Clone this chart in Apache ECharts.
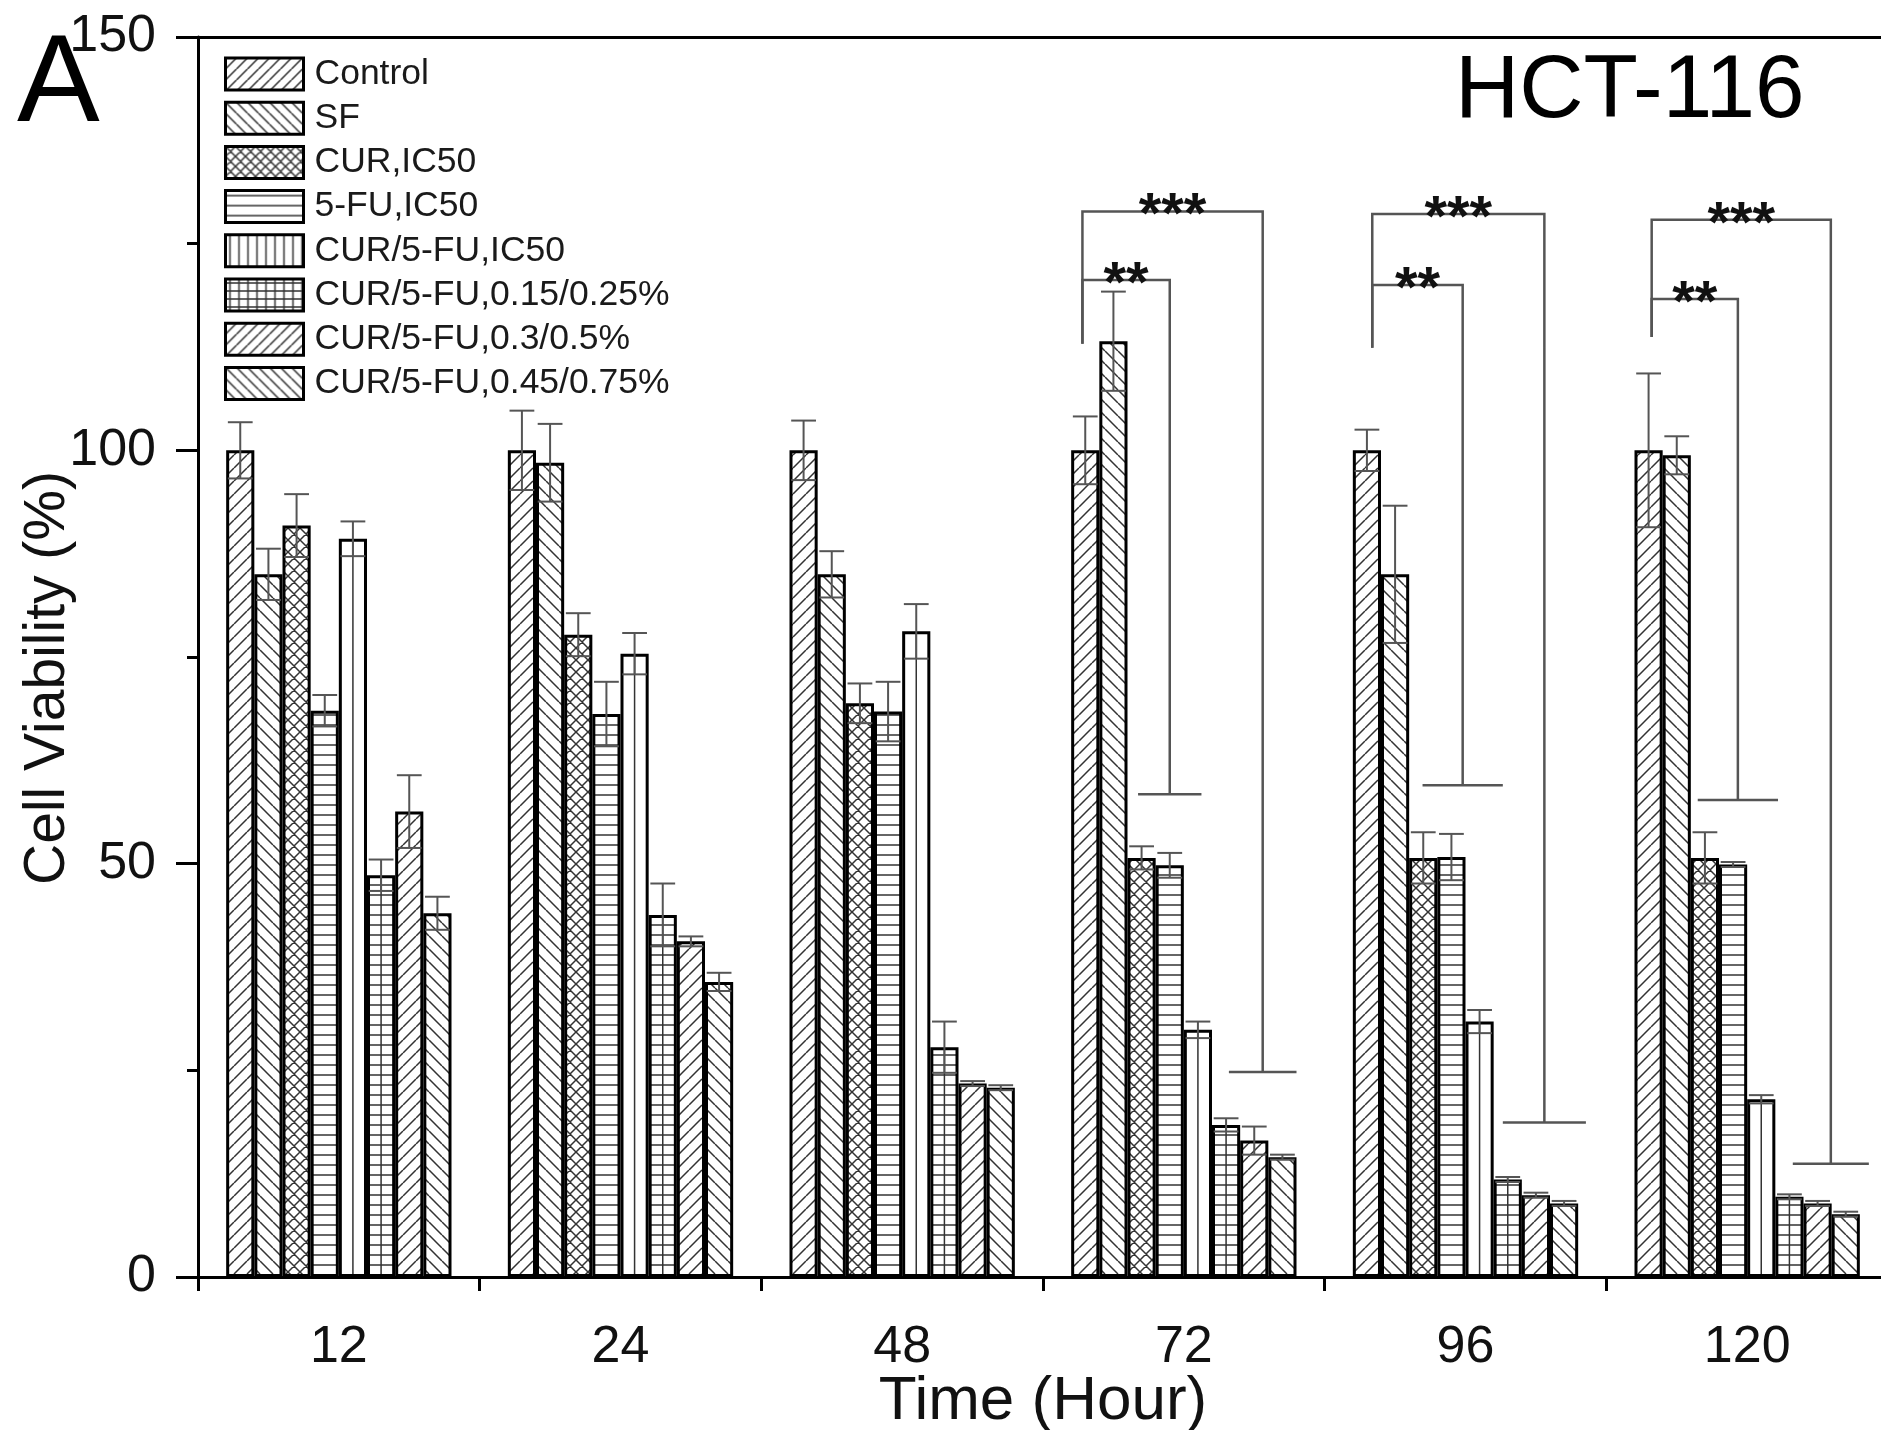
<!DOCTYPE html>
<html><head><meta charset="utf-8">
<script src="https://cdn.jsdelivr.net/npm/echarts@6.0.0/dist/echarts.min.js"></script>
<style>html,body{margin:0;padding:0;background:#fff}#c{width:1881px;height:1430px}</style>
</head><body><div id="c"></div>
<script>
// ---------- data ----------
const categories = ['12', '24', '48', '72', '96', '120'];
const seriesNames = ['Control', 'SF', 'CUR,IC50', '5-FU,IC50', 'CUR/5-FU,IC50',
  'CUR/5-FU,0.15/0.25%', 'CUR/5-FU,0.3/0.5%', 'CUR/5-FU,0.45/0.75%'];
const yTicks = [0, 50, 100, 150];

const controlMean = [100, 100, 100, 100, 100, 100];
const sfMean      = [85.0, 98.5, 85.0, 113.2, 85.0, 99.4];
const curMean     = [90.9, 77.7, 69.4, 50.7, 50.7, 50.7];
const fuMean      = [68.5, 68.1, 68.4, 49.8, 50.8, 49.9];
const comboMean   = [89.3, 75.4, 78.1, 29.9, 30.9, 21.5];
const lowMean     = [48.6, 43.8, 27.8, 18.4, 11.8, 9.7];
const midMean     = [56.3, 40.6, 23.4, 16.5, 9.9, 8.9];
const highMean    = [44.0, 35.7, 22.9, 14.5, 8.9, 7.6];

const controlErr = [3.4, 4.8, 3.6, 4.1, 2.5, 9.3];
const sfErr      = [3.1, 4.7, 2.8, 6.0, 8.3, 2.3];
const curErr     = [3.8, 2.6, 2.4, 1.4, 3.1, 3.1];
const fuErr      = [1.9, 3.9, 3.6, 1.5, 2.8, 0.3];
const comboErr   = [2.1, 2.5, 3.3, 1.0, 1.4, 0.5];
const lowErr     = [1.9, 3.8, 3.1, 0.8, 0.3, 0.3];
const midErr     = [4.4, 0.6, 0.3, 1.7, 0.3, 0.3];
const highErr    = [2.0, 1.1, 0.3, 0.3, 0.3, 0.3];

// significance brackets: [category, left bar pos, right bar pos, top value, left bottom value, right bottom value, cap width (bars), stars]
const brackets72  = [[3, -0.1, 3.0, 120.6, 112.9, 58.4, 2.25, 2], [3, -0.1, 6.3, 128.9, 112.9, 24.8, 2.4, 3]];
const brackets96  = [[4, 0.19, 3.4, 120.0, 112.4, 59.5, 2.85, 2], [4, 0.19, 6.3, 128.6, 112.4, 18.7, 2.95, 3]];
const brackets120 = [[5, 0.11, 3.17, 118.3, 113.7, 57.7, 2.85, 2], [5, 0.11, 6.47, 127.9, 113.7, 13.7, 2.7, 3]];

const means = [controlMean, sfMean, curMean, fuMean, comboMean, lowMean, midMean, highMean];
const errs = [controlErr, sfErr, curErr, fuErr, comboErr, lowErr, midErr, highErr];

// ---------- styles ----------
const FONT = 'Liberation Sans, Arial, Helvetica, sans-serif';
const HATCH = '#333';
const N = seriesNames.length;
const GAP = 0.2;

function tile(w, h, draw) {
  const c = document.createElement('canvas');
  c.width = w; c.height = h;
  const g = c.getContext('2d');
  g.fillStyle = '#fff'; g.fillRect(0, 0, w, h);
  g.strokeStyle = HATCH; g.lineWidth = 1.5;
  draw(g, w, h);
  return { image: c, repeat: 'repeat' };
}
function fwd(s) { return tile(s, s, (g) => { g.beginPath(); for (let k = -1; k <= 1; k++) { g.moveTo(k * s, s); g.lineTo(k * s + s, 0); } g.stroke(); }); }
function back(s) { return tile(s, s, (g) => { g.beginPath(); for (let k = -1; k <= 1; k++) { g.moveTo(k * s, 0); g.lineTo(k * s + s, s); } g.stroke(); }); }
function cross(s) { return tile(s, s, (g) => { g.beginPath(); for (let k = -1; k <= 1; k++) { g.moveTo(k * s, s); g.lineTo(k * s + s, 0); g.moveTo(k * s, 0); g.lineTo(k * s + s, s); } g.stroke(); }); }
function horiz(p) { return tile(8, p, (g, w, h) => { g.beginPath(); g.moveTo(0, h / 2); g.lineTo(w, h / 2); g.stroke(); }); }
function vert(p) { return tile(p, 8, (g, w) => { g.beginPath(); g.moveTo(w / 2, 0); g.lineTo(w / 2, 8); g.stroke(); }); }
function grid(px, py) { return tile(px, py, (g, w, h) => { g.beginPath(); g.moveTo(w / 2, 0); g.lineTo(w / 2, h); g.moveTo(0, h / 2); g.lineTo(w, h / 2); g.stroke(); }); }
// vertical lines aligned with bar centres (global tile)
function alignedVert(W, x0, step, withHoriz) {
  const H = withHoriz ? 10 : 4;
  return tile(W, H, (g) => {
    g.beginPath();
    const mStart = Math.floor(-x0 / step) - 1;
    for (let m = mStart; x0 + m * step <= W + step; m++) { const x = x0 + m * step; g.moveTo(x, 0); g.lineTo(x, H); }
    if (withHoriz) { g.moveTo(0, 5); g.lineTo(W, 5); }
    g.stroke();
  });
}

const legendPatterns = [fwd(11), back(11), cross(10), horiz(10), vert(9), grid(9, 8), fwd(11), back(11)];
function barPatterns(vertFill, gridFill) {
  return [fwd(13), back(13), cross(12), horiz(10), vertFill, gridFill, fwd(13), back(13)];
}

function errorRender(params, api) {
  const cat = api.value(0), si = api.value(1), m = api.value(2), e = api.value(3);
  const band = api.size([1, 0])[0];
  const bw = band * (1 - GAP) / N;
  const cx = api.coord([cat, 0])[0] - band * (1 - GAP) / 2 + bw * (si + 0.5);
  const yt = api.coord([cat, m + e])[1], yb = api.coord([cat, m - e])[1];
  const hw = bw * 0.44;
  const st = { stroke: '#555', lineWidth: 2 };
  return { type: 'group', children: [
    { type: 'line', shape: { x1: cx, y1: yt, x2: cx, y2: yb }, style: st },
    { type: 'line', shape: { x1: cx - hw, y1: yt, x2: cx + hw, y2: yt }, style: st },
    { type: 'line', shape: { x1: cx - hw, y1: yb, x2: cx + hw, y2: yb }, style: st }
  ] };
}

function bracketRender(params, api) {
  const cat = api.value(0);
  const band = api.size([1, 0])[0];
  const bw = band * (1 - GAP) / N;
  const c = api.coord([cat, 0])[0];
  const px = p => c - band * (1 - GAP) / 2 + bw * (p + 0.5);
  const xl = px(api.value(1)), xr = px(api.value(2));
  const yt = api.coord([cat, api.value(3)])[1];
  const ylb = api.coord([cat, api.value(4)])[1];
  const yrb = api.coord([cat, api.value(5)])[1];
  const cw = api.value(6) * bw / 2;
  const n = api.value(7);
  const st = { stroke: '#555', lineWidth: 2.5, fill: null };
  return { type: 'group', children: [
    { type: 'polyline', shape: { points: [[xl, ylb], [xl, yt], [xr, yt], [xr, yrb]] }, style: st },
    { type: 'line', shape: { x1: xr - cw, y1: yrb, x2: xr + cw, y2: yrb }, style: st },
    { type: 'text', style: { text: '*'.repeat(n), x: (xl + xr) / 2, y: yt + 6, fill: '#111',
      font: 'bold 58px ' + FONT, align: 'center', verticalAlign: 'middle', textAlign: 'center', textVerticalAlign: 'middle' } }
  ] };
}

const errorData = [];
errs.forEach((arr, si) => arr.forEach((e, ci) => errorData.push([ci, si, means[si][ci], e])));
const bracketData = [].concat(brackets72, brackets96, brackets120);

function buildSeries(pats) {
  const s = seriesNames.map((name, i) => ({
    type: 'bar', name, data: means[i], barGap: '0%', barCategoryGap: (GAP * 100) + '%',
    itemStyle: { color: pats[i], borderColor: '#000', borderWidth: 3 }, z: 2,
    emphasis: { disabled: true }
  }));
  s.push({ type: 'custom', renderItem: errorRender, data: errorData, z: 5, silent: true, clip: false,
    encode: { x: 0, y: 2 } });
  s.push({ type: 'custom', renderItem: bracketRender, data: bracketData, z: 6, silent: true, clip: false,
    encode: { x: 0, y: 3 } });
  return s;
}

const chart = echarts.init(document.getElementById('c'), null, { renderer: 'canvas' });
const blank = { color: '#fff' };
const option = {
  animation: false,
  backgroundColor: '#fff',
  grid: { left: 198, right: -7, top: 37, bottom: 153, outerBoundsMode: 'none', containLabel: false },
  legend: {
    orient: 'vertical', left: 224, top: 56, padding: 0,
    itemWidth: 78, itemHeight: 32, itemGap: 8.2, icon: 'rect',
    textStyle: { fontSize: 35.5, lineHeight: 32, fontFamily: FONT, color: '#1a1a1a', padding: [0, 0, 0, 6] },
    data: seriesNames.map((name, i) => ({ name, itemStyle: { color: legendPatterns[i], borderColor: '#000', borderWidth: 3 } })),
    selectedMode: false
  },
  graphic: [
    { type: 'text', left: 17, top: 25, style: { text: 'A', font: '124px ' + FONT, fill: '#000' } },
    { type: 'text', left: 1455, top: 48, style: { text: 'HCT-116', font: '89px ' + FONT, fill: '#000' } }
  ],
  xAxis: [
    { type: 'category', data: categories, position: 'bottom',
      axisLine: { lineStyle: { color: '#000', width: 3 } },
      axisTick: { alignWithLabel: true, length: 27, lineStyle: { color: '#000', width: 3 } },
      axisLabel: { fontSize: 52, margin: 45, color: '#111', fontFamily: FONT },
      splitLine: { show: false },
      name: 'Time (Hour)', nameLocation: 'middle', nameGap: 94, nameMoveOverlap: false,
      nameTextStyle: { fontSize: 62, fontFamily: FONT, color: '#111' } },
    { type: 'category', data: categories, position: 'bottom',
      axisLine: { show: false },
      axisTick: { show: true, length: 14, lineStyle: { color: '#000', width: 3 } },
      axisLabel: { show: false }, splitLine: { show: false } },
    { type: 'category', data: categories, position: 'top',
      axisLine: { show: true, lineStyle: { color: '#000', width: 3 } },
      axisTick: { show: false }, axisLabel: { show: false }, splitLine: { show: false } }
  ],
  yAxis: {
    type: 'value', min: yTicks[0], max: yTicks[yTicks.length - 1], interval: 50,
    axisLine: { show: true, lineStyle: { color: '#000', width: 3 } },
    axisTick: { show: true, length: 22, lineStyle: { color: '#000', width: 3 } },
    minorTick: { show: true, splitNumber: 2, length: 11, lineStyle: { color: '#000', width: 3 } },
    splitLine: { show: false }, minorSplitLine: { show: false },
    axisLabel: { fontSize: 52, margin: 42, color: '#111', fontFamily: FONT, padding: [0, 0, 14, 0] },
    name: 'Cell Viability (%)', nameLocation: 'middle', nameGap: 121, nameMoveOverlap: false,
    nameTextStyle: { fontSize: 57, fontFamily: FONT, color: '#111', padding: [0, 42, 0, 0] }
  },
  series: buildSeries(barPatterns(blank, blank))
};
chart.setOption(option);

// align vertical hatch lines with bar centres using the axis scale
const c0 = chart.convertToPixel({ xAxisIndex: 0 }, categories[0]);
const c1 = chart.convertToPixel({ xAxisIndex: 0 }, categories[1]);
const band = c1 - c0;
const bw = band * (1 - GAP) / N;
const x0 = c0 - band * (1 - GAP) / 2 + bw * 0.5;
const W = chart.getWidth();
chart.setOption({ series: buildSeries(barPatterns(alignedVert(W, x0, bw, false), alignedVert(W, x0, bw, true))) });
</script></body></html>
